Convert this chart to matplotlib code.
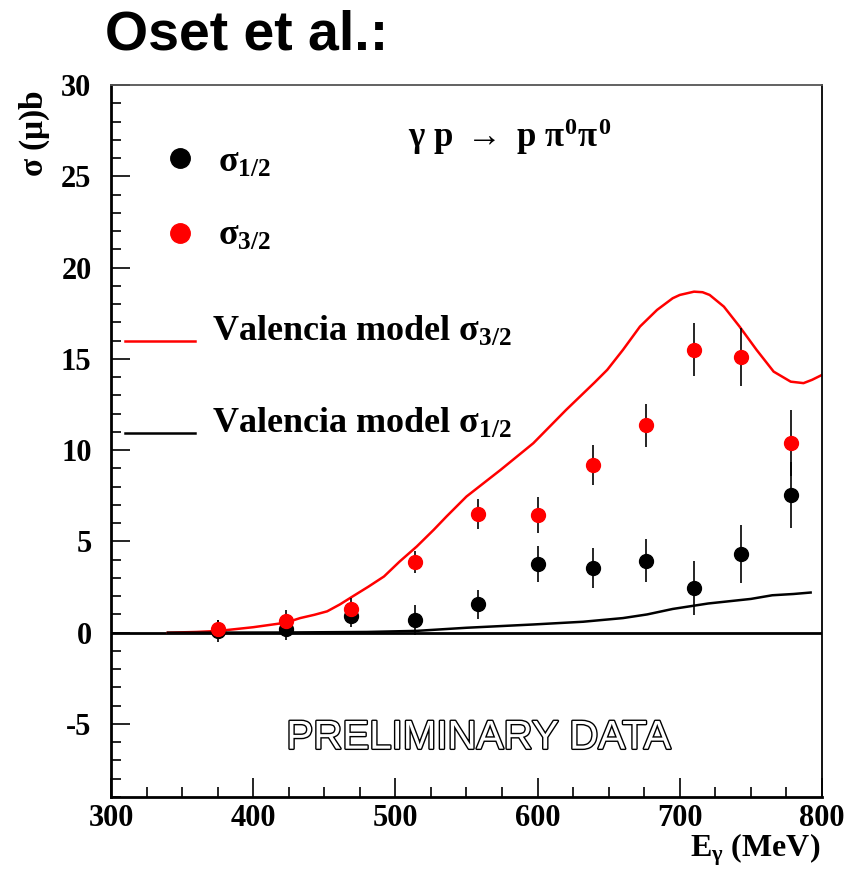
import numpy as np
import matplotlib
matplotlib.use("Agg")
import matplotlib.pyplot as plt
import matplotlib.patheffects as pe
from matplotlib.ticker import MultipleLocator

plt.rcParams["font.family"] = "Liberation Serif"
plt.rcParams["font.weight"] = "bold"
plt.rcParams["axes.unicode_minus"] = False
plt.rcParams["mathtext.fontset"] = "custom"
plt.rcParams["mathtext.rm"] = "Liberation Serif:bold"
plt.rcParams["mathtext.it"] = "Liberation Serif:bold"
plt.rcParams["mathtext.bf"] = "Liberation Serif:bold"

# photon energies of the measured points (MeV)
e_gamma = [375, 423, 469, 514, 558, 600, 639, 676, 710, 743, 778]
sig_half = [0.1, 0.2, 0.9, 0.7, 1.55, 3.75, 3.55, 3.95, 2.45, 4.3, 7.55]
sig_half_err = [0.6, 0.6, 0.6, 0.8, 0.8, 1.0, 1.1, 1.2, 1.5, 1.6, 1.8]
sig_3half = [0.2, 0.65, 1.3, 3.85, 6.5, 6.45, 9.2, 11.35, 15.5, 15.1, 10.4]
sig_3half_err = [0.5, 0.6, 0.6, 0.6, 0.8, 1.0, 1.1, 1.2, 1.45, 1.6, 1.8]

# Valencia model curves
model_e_32 = [340, 360, 376, 400, 423, 433, 443, 452, 461, 470, 481, 492, 503,
              515, 527, 536, 550, 574, 597, 620, 640, 649, 660, 672, 684, 695,
              700, 710, 716, 721, 731, 742, 754, 766, 778, 787, 793, 800]
model_s_32 = [0.0, 0.04, 0.1, 0.3, 0.55, 0.8, 0.98, 1.17, 1.55, 1.99, 2.52, 3.08,
              3.9, 4.72, 5.64, 6.37, 7.46, 8.92, 10.38, 12.2, 13.7, 14.4, 15.49,
              16.77, 17.68, 18.32, 18.5, 18.68, 18.65, 18.5, 17.86, 16.77, 15.49,
              14.3, 13.75, 13.67, 13.85, 14.12]
model_e_12 = [340, 420, 480, 515, 550, 597, 632, 660, 677, 695, 720, 750, 765, 780, 792]
model_s_12 = [0.0, 0.01, 0.04, 0.1, 0.27, 0.45, 0.6, 0.8, 1.0, 1.3, 1.6, 1.85,
              2.05, 2.12, 2.2]

fig = plt.figure(figsize=(8.68, 8.69), dpi=100)
ax = fig.add_axes([111/868, 1-797/869, 711/868, 712/869])

ax.axhline(0, color="black", lw=2, zorder=1)
ax.plot(model_e_32, model_s_32, color="red", lw=1.8, zorder=2,
        solid_joinstyle="round")
ax.plot(model_e_12, model_s_12, color="black", lw=1.8, zorder=2,
        solid_joinstyle="round")

ax.errorbar(e_gamma, sig_half, yerr=sig_half_err, fmt="o", color="black",
            ecolor="black", elinewidth=1.2, ms=10, capsize=0, zorder=3)
ax.errorbar(e_gamma, sig_3half, yerr=sig_3half_err, fmt="o", color="red",
            mec="red", ecolor="black", elinewidth=1.2, ms=10, capsize=0, zorder=4)

ax.set_xlim(300, 800)
ax.set_ylim(-9, 30)
ax.xaxis.set_major_locator(MultipleLocator(100))
ax.xaxis.set_minor_locator(MultipleLocator(25))
ax.yaxis.set_major_locator(MultipleLocator(5))
ax.yaxis.set_minor_locator(MultipleLocator(1))
ax.tick_params(which="both", direction="in", top=False, right=False,
               labelsize=22, width=1.2)
ax.tick_params(which="major", length=14)
ax.tick_params(which="minor", length=7)
ax.tick_params(axis="y", pad=14)
ax.tick_params(axis="x", pad=5)
for lab in ax.get_xticklabels() + ax.get_yticklabels():
    lab.set_fontweight("bold")

ax.spines["left"].set_linewidth(2)
ax.spines["bottom"].set_linewidth(2)
ax.spines["right"].set_linewidth(1.3)
ax.spines["top"].set_linewidth(1.3)
ax.spines["top"].set_color("#555555")

# hand-made legend
tr = ax.transAxes
ax.plot([0.097], [0.8975], "o", color="black", ms=14, transform=tr, clip_on=False)
ax.plot([0.097], [0.792], "o", color="red", ms=14, transform=tr, clip_on=False)
ax.text(0.15, 1-(172-85)/712, r"$\sigma_{1/2}$", fontsize=26, transform=tr, va="baseline")
ax.text(0.15, 1-(245-85)/712, r"$\sigma_{3/2}$", fontsize=26, transform=tr, va="baseline")
ax.plot([0.0197, 0.118], [0.640, 0.640], color="red", lw=1.8, transform=tr)
ax.plot([0.0197, 0.118], [0.511, 0.511], color="black", lw=1.8, transform=tr)
ax.text(0.142, 0.640, r"Valencia model $\sigma_{3/2}$", fontsize=26,
        transform=tr, va="baseline")
ax.text(0.142, 0.511, r"Valencia model $\sigma_{1/2}$", fontsize=26,
        transform=tr, va="baseline")

ax.text(0.561, 0.913, r"$\gamma$ p $\rightarrow$ p $\pi^{0}\pi^{0}$", fontsize=25,
        transform=tr, ha="center", va="baseline")

ax.text(558, -5.75, "PRELIMINARY DATA", fontsize=29, family="Liberation Sans",
        weight="normal", color="white", ha="center", va="center",
        path_effects=[pe.withStroke(linewidth=2.0, foreground="black")])

fig.text(105/868, 1-50/869, "Oset et al.:", fontsize=40, family="Liberation Sans",
         weight="bold", va="baseline")
fig.text(35/868, 1-90/869, r"$\sigma$ ($\mu$)b", fontsize=24, rotation=90,
         ha="center", va="top")
fig.text(820/868, 1-856/869, r"E$_{\gamma}$ (MeV)", fontsize=23, ha="right",
         va="baseline")

fig.savefig("out.png", dpi=100)
